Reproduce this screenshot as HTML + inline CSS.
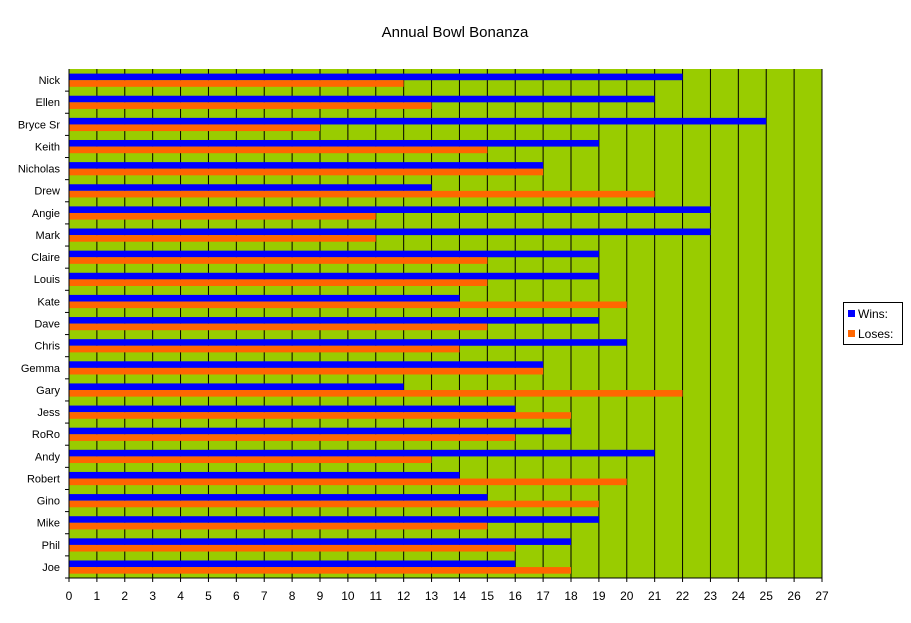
<!DOCTYPE html>
<html><head><meta charset="utf-8"><style>
body{margin:0;background:#fff;}
svg{display:block;font-family:"Liberation Sans",sans-serif;}
</style></head><body>
<svg id="c" width="911" height="623">
<text x="455" y="37" text-anchor="middle" font-size="15">Annual Bowl Bonanza</text>
<g id="plot"></g>
<g>
<rect x="843.5" y="302.5" width="59" height="42" fill="#fff" stroke="#000"/>
<rect x="848" y="310" width="7" height="7" fill="#0000FF"/>
<text x="858" y="318" font-size="12">Wins:</text>
<rect x="848" y="330" width="7" height="7" fill="#FF6600"/>
<text x="858" y="338" font-size="12">Loses:</text>
</g>
</svg>
<script>
const categories=["Nick","Ellen","Bryce Sr","Keith","Nicholas","Drew","Angie","Mark","Claire","Louis","Kate","Dave","Chris","Gemma","Gary","Jess","RoRo","Andy","Robert","Gino","Mike","Phil","Joe"];
const wins=[22,21,25,19,17,13,23,23,19,19,14,19,20,17,12,16,18,21,14,15,19,18,16];
const loses=[12,13,9,15,17,21,11,11,15,15,20,15,14,17,22,18,16,13,20,19,15,16,18];
const xTicks=[0,1,2,3,4,5,6,7,8,9,10,11,12,13,14,15,16,17,18,19,20,21,22,23,24,25,26,27];
const NS="http://www.w3.org/2000/svg";
const L=69,R=822,T=69,B=578,XMAX=27;
const x=v=>L+(R-L)*v/XMAX;
const band=(B-T)/categories.length;
const y=i=>T+band*i;
const g=document.getElementById('plot');
function mk(tag,attrs){const e=document.createElementNS(NS,tag);for(const k in attrs)e.setAttribute(k,attrs[k]);g.appendChild(e);return e;}
const bg=mk('rect',{x:L,y:T,width:R-L,height:B-T,fill:'#99CC00'});


xTicks.forEach(t=>{
 if(t>0){const gl=mk('line',{x1:x(t),x2:x(t),y1:T,y2:B,stroke:'#000','stroke-width':1});
 
 }
 const tk=mk('line',{x1:x(t),x2:x(t),y1:B,y2:B+4,stroke:'#000'});
 
 
 const tl=mk('text',{x:x(t),y:B+22,'text-anchor':'middle','font-size':12});
 tl.textContent=t;
 
 
});
categories.forEach((c,i)=>{
 const y0=y(i);
 const bw=mk('rect',{x:L,y:y0+4.6,width:x(wins[i])-L,height:6.6,fill:'#0000FF'});
 
 
 const bl=mk('rect',{x:L,y:y0+11.2,width:x(loses[i])-L,height:6.6,fill:'#FF6600'});
 
 
 const tk=mk('line',{x1:L-4,x2:L,y1:y0+band,y2:y0+band,stroke:'#000'});
 
 
 const tl=mk('text',{x:L-9,y:y0+band/2+4,'text-anchor':'end','font-size':11});
 tl.textContent=c;
 
 
});
const ax=mk('line',{x1:L,x2:L,y1:T,y2:B,stroke:'#000'});


const axb=mk('line',{x1:L,x2:R,y1:B,y2:B,stroke:'#000'});


</script>
</body></html>
